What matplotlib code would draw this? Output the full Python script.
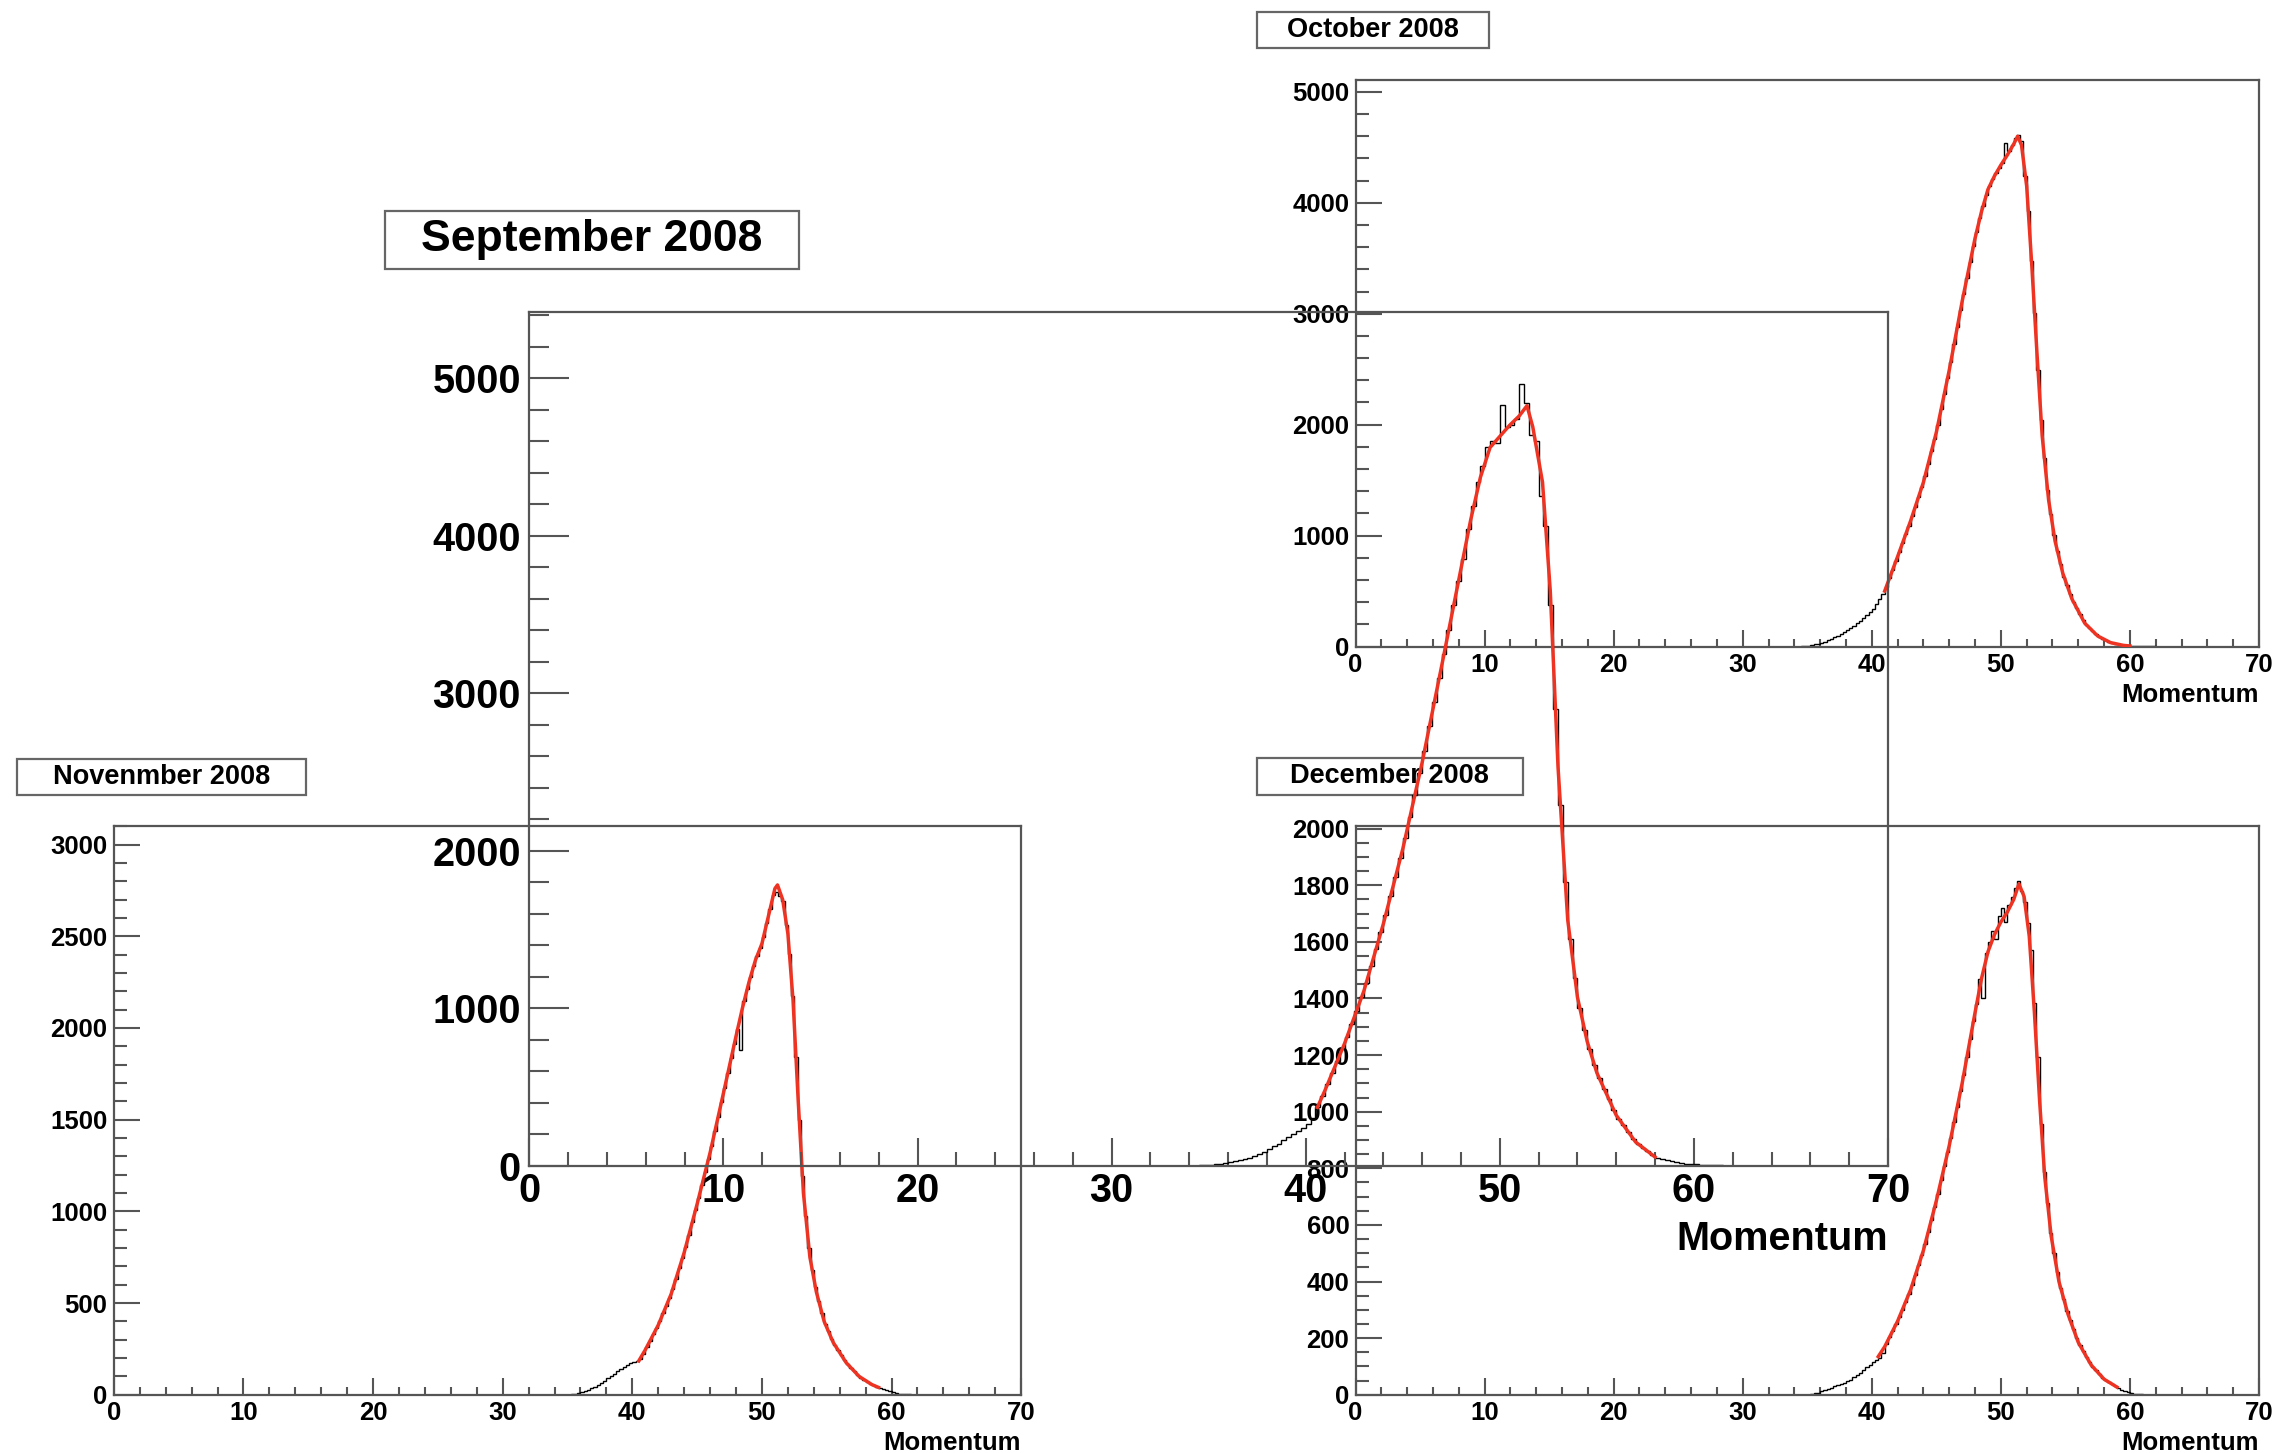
import numpy as np
import matplotlib
matplotlib.use("Agg")
import matplotlib.pyplot as plt
from matplotlib.patches import Rectangle
from matplotlib.ticker import MultipleLocator

plt.rcParams['font.family'] = ['Liberation Sans', 'DejaVu Sans']
plt.rcParams['font.weight'] = 'bold'

# momentum histogram bins, 0.25 wide from 34 to 62 (one row = one unit)
edges = np.arange(34.0, 62.001, 0.25)

# September 2008
sep_hist = [0, 1, 3, 5,
            7, 10, 13, 17,
            22, 28, 35, 43,
            52, 63, 76, 90,
            105, 122, 140, 160,
            180, 200, 220, 242,
            265, 300, 375, 440,
            517, 590, 665, 738,
            817, 900, 985, 1068,
            1163, 1269, 1376, 1482,
            1594, 1713, 1832, 1951,
            2079, 2216, 2354, 2491,
            2636, 2789, 2941, 3094,
            3248, 3403, 3558, 3713,
            3850, 4040, 4190, 4340,
            4440, 4560, 4600, 4590,
            4830, 4690, 4700, 4740,
            4960, 4840, 4640, 4600,
            4250, 4060, 3560, 2900,
            2288, 1803, 1438, 1193,
            1000, 860, 740, 640,
            556, 489, 421, 354,
            299, 256, 214, 171,
            138, 114, 91, 67,
            50, 42, 35, 28,
            22, 17, 13, 10,
            8, 6, 5, 4,
            3, 2, 1, 1]
sep_fit_x = [40.6, 41.0, 42.0, 43.0, 44.0, 45.0, 46.0, 47.0, 48.0, 48.5, 49.0, 49.5,
             50.0, 50.5, 51.0, 51.4, 51.7, 52.2, 52.6, 53.0, 53.5, 54.0, 54.5, 55.0,
             56.0, 57.0, 58.0]
sep_fit_y = [370, 480, 775, 1110, 1535, 2010, 2560, 3170, 3790, 4100, 4370, 4560,
             4630, 4700, 4760, 4825, 4690, 4340, 3650, 2530, 1560, 1070, 790, 590,
             320, 150, 55]

# October 2008
oct_hist = [0, 0, 2, 5,
            9, 14, 20, 27,
            35, 45, 56, 68,
            82, 97, 113, 130,
            148, 167, 188, 210,
            233, 257, 282, 308,
            340, 382, 428, 474,
            539, 616, 694, 771,
            850, 930, 1010, 1090,
            1174, 1261, 1349, 1436,
            1536, 1649, 1761, 1874,
            2000, 2140, 2280, 2420,
            2568, 2723, 2878, 3033,
            3181, 3324, 3466, 3609,
            3740, 3860, 3970, 4070,
            4150, 4210, 4265, 4315,
            4363, 4540, 4470, 4520,
            4580, 4610, 4560, 4240,
            3925, 3475, 3010, 2494,
            2038, 1697, 1407, 1190,
            1006, 865, 744, 631,
            553, 471, 402, 347,
            293, 238, 196, 167,
            138, 109, 87, 69,
            57, 42, 32, 26,
            20, 14, 9, 8,
            6, 5, 4, 3,
            2, 2, 1, 1]
oct_fit_x = [41.0, 42.0, 43.0, 44.0, 45.0, 46.0, 47.0, 48.0, 48.5, 49.0, 49.5, 50.0,
             50.5, 51.0, 51.3, 51.6, 52.0, 52.4, 52.8, 53.2, 53.7, 54.2, 54.8, 55.5,
             56.5, 57.5, 58.5, 59.5, 60.0]
oct_fit_y = [500, 810, 1130, 1480, 1930, 2490, 3110, 3680, 3920, 4120, 4240, 4340,
             4430, 4530, 4600, 4520, 4150, 3430, 2640, 1900, 1320, 950, 660, 430,
             210, 95, 35, 10, 5]

# Novenmber 2008
nov_hist = [0, 0, 0, 0,
            0, 2, 5, 9,
            14, 20, 27, 35,
            44, 54, 65, 77,
            90, 102, 115, 128,
            140, 152, 164, 176,
            180, 182, 193, 223,
            262, 296, 330, 363,
            401, 444, 486, 529,
            578, 634, 691, 747,
            808, 874, 941, 1007,
            1075, 1145, 1215, 1285,
            1359, 1438, 1517, 1596,
            1675, 1755, 1835, 1915,
            1994, 1880, 2145, 2215,
            2280, 2340, 2393, 2438,
            2498, 2573, 2648, 2723,
            2740, 2720, 2690, 2560,
            2401, 2173, 1841, 1497,
            1194, 977, 802, 683,
            589, 513, 447, 388,
            347, 306, 271, 244,
            219, 189, 166, 146,
            128, 109, 94, 81,
            72, 61, 51, 44,
            37, 30, 24, 19,
            14, 10, 7, 5,
            3, 2, 1, 0]
nov_fit_x = [40.5, 41.0, 42.0, 43.0, 44.0, 45.0, 46.0, 47.0, 48.0, 48.5, 49.0, 49.5,
             50.0, 50.5, 51.0, 51.2, 51.6, 52.0, 52.4, 52.8, 53.2, 53.7, 54.2, 54.8,
             55.5, 56.5, 57.5, 58.5, 59.0]
nov_fit_y = [185, 245, 380, 550, 775, 1040, 1320, 1635, 1955, 2110, 2250, 2370,
             2460, 2610, 2760, 2780, 2700, 2515, 2150, 1600, 1100, 750, 560, 400,
             285, 175, 100, 55, 40]

# December 2008
dec_hist = [0, 0, 0, 0,
            0, 2, 5, 8,
            12, 16, 20, 25,
            30, 35, 39, 43,
            47, 54, 62, 70,
            78, 88, 98, 107,
            115, 122, 131, 149,
            181, 204, 226, 249,
            274, 301, 329, 356,
            388, 423, 458, 493,
            532, 576, 619, 663,
            709, 758, 807, 856,
            908, 963, 1018, 1073,
            1131, 1194, 1256, 1319,
            1380, 1470, 1400, 1560,
            1600, 1640, 1610, 1690,
            1720, 1670, 1730, 1760,
            1790, 1815, 1780, 1740,
            1666, 1570, 1384, 1194,
            956, 787, 676, 571,
            500, 433, 379, 338,
            297, 263, 232, 201,
            175, 155, 135, 115,
            99, 86, 74, 61,
            52, 45, 38, 31,
            24, 18, 13, 9,
            6, 4, 3, 2,
            1, 1, 0, 0]
dec_fit_x = [40.5, 41.0, 42.0, 43.0, 44.0, 45.0, 46.0, 47.0, 48.0, 48.5, 49.0, 49.5,
             50.0, 50.5, 51.0, 51.4, 51.8, 52.2, 52.6, 53.0, 53.4, 53.9, 54.5, 55.2,
             56.0, 57.0, 58.0, 59.0]
dec_fit_y = [135, 170, 260, 370, 510, 685, 880, 1100, 1350, 1470, 1565, 1625,
             1670, 1705, 1750, 1805, 1760, 1620, 1350, 1040, 770, 560, 400, 285,
             185, 105, 55, 27]

W, H = 2284, 1453
fig = plt.figure(figsize=(W / 100, H / 100), dpi=100)
axis_col = '#555555'
fit_col = '#ee3322'


def frac(l, t, r, b):
    return [l / W, 1 - b / H, (r - l) / W, (b - t) / H]


def panel(rect, hist, fx, fy, ymax, ymaj, ymin, title, box, big):
    ax = fig.add_axes(frac(*rect))
    ax.set_facecolor('none')
    ax.stairs(hist, edges, color='black', lw=1.0, zorder=2)
    ax.plot(fx, fy, color=fit_col, lw=2.5, zorder=3)
    ax.set_xlim(0, 70)
    ax.set_ylim(0, ymax)
    ax.xaxis.set_major_locator(MultipleLocator(10))
    ax.xaxis.set_minor_locator(MultipleLocator(2))
    ax.yaxis.set_major_locator(MultipleLocator(ymaj))
    ax.yaxis.set_minor_locator(MultipleLocator(ymin))
    for s in ax.spines.values():
        s.set_color(axis_col)
        s.set_linewidth(1.6)
    if big:
        fs, xl, yl, mfs, moff, tfs = 28.5, 20, 28.8, 28.5, -53, 32
        xpad, ypad = 4.5, 6
    else:
        fs, xl, yl, mfs, moff, tfs = 18.5, 12.2, 18.5, 18.5, -35, 19.5
        xpad, ypad = 4.5, 4.5
    ax.tick_params(axis='x', which='both', direction='in', top=False, bottom=True,
                   color=axis_col, width=1.5, labelsize=fs, pad=xpad)
    ax.tick_params(axis='y', which='both', direction='in', right=False, left=True,
                   color=axis_col, width=1.5, labelsize=fs, pad=ypad)
    ax.tick_params(axis='x', which='major', length=xl)
    ax.tick_params(axis='x', which='minor', length=xl / 2)
    ax.tick_params(axis='y', which='major', length=yl)
    ax.tick_params(axis='y', which='minor', length=yl / 2)
    ax.annotate('Momentum', xy=(1.0, 0.0), xycoords='axes fraction',
                xytext=(0, moff), textcoords='offset points',
                ha='right', va='center', fontsize=mfs, fontweight='bold')
    # title box
    bl, bt, br, bb = box
    ax.add_patch(Rectangle((bl / W, 1 - bb / H), (br - bl) / W, (bb - bt) / H,
                           transform=fig.transFigure, facecolor='white',
                           edgecolor='#666666', lw=1.6, clip_on=False, zorder=4))
    ax.text((bl + br) / 2 / W, 1 - (bt + bb) / 2 / H, title, transform=fig.transFigure,
            ha='center', va='center', fontsize=tfs, fontweight='bold', zorder=5,
            clip_on=False)
    return ax


panel((1355.5, 80.3, 2259, 646.5), oct_hist, oct_fit_x, oct_fit_y, 5104, 1000, 200,
      'October 2008', (1257, 11.7, 1488.7, 48), False)
panel((113.8, 825.5, 1021.2, 1394.8), nov_hist, nov_fit_x, nov_fit_y, 3104, 500, 100,
      'Novenmber 2008', (17, 758.5, 305.5, 795), False)
panel((1355.5, 825.5, 2259, 1394.8), dec_hist, dec_fit_x, dec_fit_y, 2011, 200, 50,
      'December 2008', (1257, 757.5, 1522.5, 795), False)
panel((529.3, 312, 1888, 1165.7), sep_hist, sep_fit_x, sep_fit_y, 5420, 1000, 200,
      'September 2008', (384.5, 211, 798.5, 269), True)

fig.savefig('out.png', dpi=100)
